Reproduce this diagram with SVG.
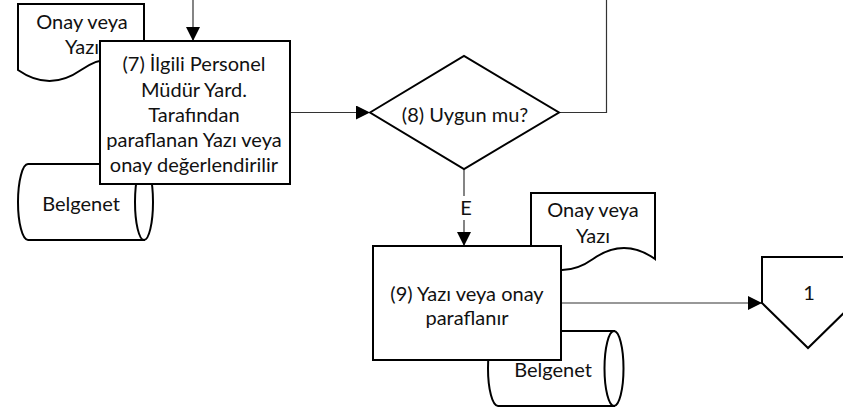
<svg xmlns="http://www.w3.org/2000/svg" width="843" height="407" viewBox="0 0 843 407">
<defs>
<style>
.s{fill:#fff;stroke:#000;stroke-width:2;stroke-linejoin:miter}
.c{fill:none;stroke:#333;stroke-width:1.2}
.t{font-family:Lato,"Liberation Sans",sans-serif;font-size:20px;fill:#111;text-anchor:middle}
</style>
<marker id="ah" viewBox="0 0 14 14" refX="14" refY="7" markerWidth="14" markerHeight="14" markerUnits="userSpaceOnUse" orient="auto">
<path d="M0,0 L14,7 L0,14 Z" fill="#000"/>
</marker>
</defs>
<rect width="843" height="407" fill="#fff"/>

<g id="doc1">
<path class="s" d="M18,4 H144 V70 Q112.5,48 81,70 T18,70 Z"/>
<text class="t" x="82" y="29">Onay veya</text>
<text class="t" x="82" y="54">Yazı</text>
</g>

<g id="cyl1">
<path class="s" d="M28,164 H144 V240 H28 A10,38 0 0 1 28,164 Z"/>
<ellipse class="s" cx="144" cy="202" rx="9" ry="38"/>
<text class="t" x="81" y="211">Belgenet</text>
</g>

<g id="doc2">
<path class="s" d="M531,193 H655 V259 Q624,237 593,259 T531,259 Z"/>
<text class="t" x="593" y="217">Onay veya</text>
<text class="t" x="593" y="243">Yazı</text>
</g>

<g id="cyl2">
<path class="s" d="M498,331 H614 V406 H498 A10,37.5 0 0 1 498,331 Z"/>
<ellipse class="s" cx="614" cy="368.5" rx="9.5" ry="37.5"/>
<text class="t" x="553" y="377">Belgenet</text>
</g>

<g id="connectors">
<path class="c" d="M193,0 V41" marker-end="url(#ah)"/>
<path class="c" d="M290,112.5 H370" marker-end="url(#ah)"/>
<path class="c" d="M559,112.5 H606.5 V0"/>
<path class="c" d="M464,169 V246" marker-end="url(#ah)"/>
<rect x="456" y="196" width="17" height="24" fill="#fff"/>
<text class="t" x="466" y="215">E</text>
<path class="c" d="M561,303 H762" marker-end="url(#ah)"/>
</g>

<g id="box7">
<rect class="s" x="100" y="41" width="190" height="143"/>
<text class="t" x="194" y="71">(7) İlgili Personel</text>
<text class="t" x="194" y="96.5">Müdür Yard.</text>
<text class="t" x="194" y="121.5">Tarafından</text>
<text class="t" x="194" y="147">paraflanan Yazı veya</text>
<text class="t" x="194" y="172">onay değerlendirilir</text>
</g>

<g id="dec8">
<path class="s" d="M370,112.5 L464,56 L559,112.5 L464,169 Z"/>
<text class="t" x="465" y="122">(8) Uygun mu?</text>
</g>

<g id="box9">
<rect class="s" x="373" y="246" width="188" height="114"/>
<text class="t" x="467" y="301">(9) Yazı veya onay</text>
<text class="t" x="467" y="325">paraflanır</text>
</g>

<g id="offpage1">
<path class="s" d="M762,257 H854 V303 L808,348 L762,303 Z"/>
<text class="t" x="809" y="300">1</text>
</g>
</svg>
